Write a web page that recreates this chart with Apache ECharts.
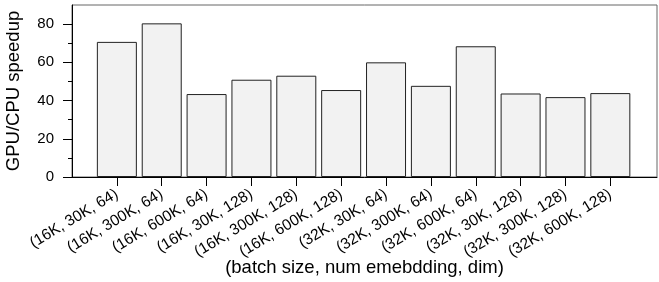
<!DOCTYPE html>
<html>
<head>
    <meta charset="utf-8">
    <title>GPU/CPU speedup</title>
    <script src="https://cdn.jsdelivr.net/npm/echarts@6/dist/echarts.min.js"></script>
</head>
<body style="margin:0">
    <div id="main" style="width: 659px;height:282px;"></div>
    <script type="text/javascript">
        // categories: (batch size, num embedding, dim)
        var categories = ['(16K, 30K, 64)', '(16K, 300K, 64)', '(16K, 600K, 64)',
            '(16K, 30K, 128)', '(16K, 300K, 128)', '(16K, 600K, 128)',
            '(32K, 30K, 64)', '(32K, 300K, 64)', '(32K, 600K, 64)',
            '(32K, 30K, 128)', '(32K, 300K, 128)', '(32K, 600K, 128)'];
        var speedup = [70.7, 80.4, 43.4, 50.9, 53.0, 45.5, 60.0, 47.7, 68.4, 43.7, 41.8, 43.9];
        var yMajor = [0, 20, 40, 60, 80];
        var yMinor = [10, 30, 50, 70];

        var positions = categories.map(function (c, i) { return i; });
        var barData = speedup.map(function (v, i) { return [i, v]; });

        var font = 'Liberation Sans';
        var myChart = echarts.init(document.getElementById('main'));

        var option = {
            animation: false,
            textStyle: { fontFamily: font, color: '#000' },
            grid: {
                left: 72, right: 2, top: 5, bottom: 105,
                containLabel: false,
                outerBoundsMode: 'none',
                show: true,
                borderColor: '#666',
                borderWidth: 1
            },
            xAxis: {
                type: 'value',
                min: -1,
                max: 12.04,
                name: '(batch size, num emebdding, dim)',
                nameLocation: 'middle',
                nameGap: 81,
                nameMoveOverlap: false,
                nameTextStyle: { fontSize: 18.5, color: '#000', fontFamily: font },
                axisLine: { onZero: false, lineStyle: { color: '#000', width: 1 } },
                axisTick: { customValues: positions, length: 9, lineStyle: { color: '#000' } },
                axisLabel: {
                    customValues: positions,
                    rotate: 31,
                    margin: 16,
                    fontSize: 15.5,
                    color: '#000',
                    fontFamily: font,
                    formatter: function (v) { return categories[v]; }
                },
                splitLine: { show: false }
            },
            yAxis: [
                {
                    type: 'value',
                    min: 0,
                    max: 90,
                    name: 'GPU/CPU speedup',
                    nameLocation: 'middle',
                    nameGap: 49,
                    nameMoveOverlap: false,
                    nameTextStyle: { fontSize: 18.5, color: '#000', fontFamily: font },
                    axisLine: { show: true, onZero: false, lineStyle: { color: '#000', width: 1 } },
                    axisTick: { customValues: yMajor, length: 9, lineStyle: { color: '#000' } },
                    axisLabel: { customValues: yMajor, fontSize: 15, margin: 18, color: '#000', fontFamily: font },
                    splitLine: { show: false }
                },
                {
                    // minor ticks
                    type: 'value',
                    position: 'left',
                    min: 0,
                    max: 90,
                    axisLine: { show: false, onZero: false },
                    axisTick: { customValues: yMinor, length: 4, lineStyle: { color: '#000' } },
                    axisLabel: { show: false },
                    splitLine: { show: false }
                }
            ],
            series: [
                {
                    type: 'bar',
                    data: barData,
                    barWidth: 40,
                    itemStyle: {
                        color: '#f2f2f2',
                        borderColor: '#222',
                        borderWidth: 1
                    }
                }
            ]
        };

        myChart.setOption(option);
    </script>
</body>
</html>
